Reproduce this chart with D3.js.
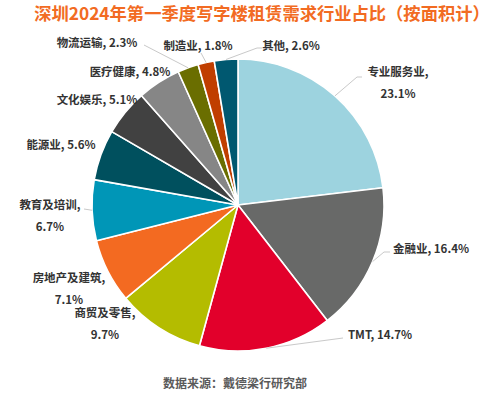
<!DOCTYPE html>
<html>
<head>
<meta charset="utf-8">
<script src="https://cdn.jsdelivr.net/npm/d3@7"></script>
<style>
  body { margin: 0; background: #fff; }
  text { font-family: "Noto Sans CJK SC", "Noto Sans", sans-serif; }
</style>
</head>
<body>
<svg id="chart" width="500" height="397"></svg>
<script>
// data, clockwise from 12 o'clock
const categories = ["专业服务业", "金融业", "TMT", "商贸及零售", "房地产及建筑", "教育及培训",
                    "能源业", "文化娱乐", "医疗健康", "物流运输", "制造业", "其他"];
const shares = [23.1, 16.4, 14.7, 9.7, 7.1, 6.7, 5.6, 5.1, 4.8, 2.3, 1.8, 2.6];
const colors = ["#9dd3df", "#686968", "#e2002b", "#b4bc00", "#f36a21", "#0096b7",
                "#00505e", "#414141", "#868686", "#6a6e00", "#c03e00", "#005870"];

// label layout (centre x, centre y, two lines or not)
const labelAt = [
  [398, 72, true], [431, 249, false], [380, 335, false], [105, 313, true],
  [69, 278, true], [50, 205, true], [61, 145, false], [97, 100, false],
  [130, 72, false], [97, 43, false], [198, 46, false], [291, 46, false]
];
// leader line end points (null = no leader)
const leaderTo = [
  [[357, 77], [362, 77]], [[384, 252], [390, 252]], [[343, 338]], null,
  null, [[84, 209]], null, null,
  null, [[144, 45]], [[201, 53]], [[257, 48], [262, 48]]
];

const svg = d3.select("#chart");
const cx = 238, cy = 205, r = 146;

svg.append("text")
  .attr("x", 262).attr("y", 19.5)
  .attr("text-anchor", "middle")
  .attr("font-size", 17.3)
  .attr("font-weight", 700)
  .attr("fill", "#f26b22")
  .text("深圳2024年第一季度写字楼租赁需求行业占比（按面积计）");

const data = categories.map((c, i) => ({ name: c, value: shares[i], i: i }));

const pie = d3.pie().sort(null).value(d => d.value).startAngle(0).endAngle(2 * Math.PI);
const arc = d3.arc().innerRadius(0).outerRadius(r);
const edge = d3.arc().innerRadius(r).outerRadius(r);

const g = svg.append("g").attr("transform", `translate(${cx},${cy})`);
const arcs = pie(data);

g.selectAll("path.slice")
  .data(arcs)
  .join("path")
  .attr("class", "slice")
  .attr("d", arc)
  .attr("fill", d => colors[d.data.i])
  .attr("stroke", "#fff")
  .attr("stroke-width", 1.6)
  .attr("stroke-linejoin", "round");

// leader lines
const line = d3.line();
arcs.forEach(d => {
  const to = leaderTo[d.data.i];
  if (!to) return;
  const p0 = edge.centroid(d);
  const pts = [[p0[0] + cx, p0[1] + cy]].concat(to);
  svg.append("path")
    .attr("d", line(pts))
    .attr("fill", "none")
    .attr("stroke", "#c9c9c9")
    .attr("stroke-width", 1);
});

// labels
const labels = svg.append("g")
  .attr("font-size", 11.5)
  .attr("font-weight", 700)
  .attr("fill", "#333")
  .attr("text-anchor", "middle");

arcs.forEach(d => {
  const [x, y, twoLines] = labelAt[d.data.i];
  const pct = d3.format(".1f")(d.data.value) + "%";
  if (twoLines) {
    labels.append("text").attr("x", x).attr("y", y).attr("dy", "0.36em").text(d.data.name + ",");
    labels.append("text").attr("x", x).attr("y", y + 22).attr("dy", "0.36em").text(pct);
  } else {
    labels.append("text").attr("x", x).attr("y", y).attr("dy", "0.36em").text(d.data.name + ", " + pct);
  }
});

svg.append("text")
  .attr("x", 235).attr("y", 384)
  .attr("dy", "0.36em")
  .attr("text-anchor", "middle")
  .attr("font-size", 12)
  .attr("font-weight", 700)
  .attr("fill", "#5a5a5a")
  .text("数据来源：戴德梁行研究部");
</script>
</body>
</html>
